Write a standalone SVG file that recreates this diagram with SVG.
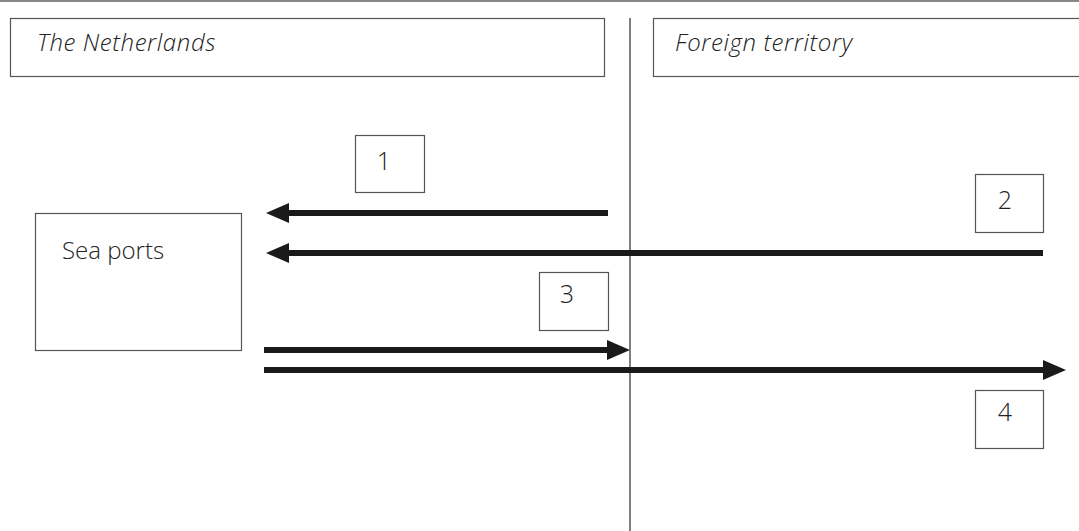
<svg xmlns="http://www.w3.org/2000/svg" width="1079" height="531" viewBox="0 0 1079 531">
<style>
.box{fill:#fff;stroke:#555;stroke-width:1.2}
.lbl{font-family:"Open Sans","Noto Sans",sans-serif;font-size:24px;fill:#222;font-weight:300}
.it{font-style:italic;letter-spacing:0.6px}
.num{text-anchor:middle;font-size:25px}
.arr{stroke:#1a1a1a;stroke-width:6;fill:none}
</style>
<defs>
<marker id="ah" markerUnits="userSpaceOnUse" markerWidth="24" markerHeight="20" refX="1" refY="10" orient="auto">
<path d="M0,0 L23,10 L0,20 Z" fill="#1a1a1a"/>
</marker>
</defs>
<rect width="1079" height="531" fill="#fff"/>
<line x1="0" y1="1" x2="1079" y2="1" stroke="#888" stroke-width="2"/>
<line x1="630" y1="18" x2="630" y2="531" stroke="#555" stroke-width="1.5"/>
<g id="netherlands">
<rect class="box" x="10.5" y="18.5" width="594" height="58"/>
<text class="lbl it" x="37" y="51">The Netherlands</text>
</g>
<g id="foreign">
<rect class="box" x="653.5" y="18.5" width="440" height="58"/>
<text class="lbl it" x="675" y="51">Foreign territory</text>
</g>
<g id="seaports">
<rect class="box" x="35.5" y="213.5" width="206" height="137"/>
<text class="lbl" x="62" y="259">Sea ports</text>
</g>
<g id="label1">
<rect class="box" x="355.5" y="135.5" width="69" height="57"/>
<text class="lbl num" x="384" y="170">1</text>
</g>
<g id="label2">
<rect class="box" x="975.5" y="174.5" width="68" height="58"/>
<text class="lbl num" x="1005" y="209">2</text>
</g>
<g id="label3">
<rect class="box" x="539.5" y="272.5" width="69" height="58"/>
<text class="lbl num" x="567" y="303">3</text>
</g>
<g id="label4">
<rect class="box" x="975.5" y="390.5" width="68" height="58"/>
<text class="lbl num" x="1005" y="421">4</text>
</g>
<g id="connectors">
<line class="arr" x1="608" y1="213" x2="288" y2="213" marker-end="url(#ah)"/>
<line class="arr" x1="1043" y1="253" x2="288" y2="253" marker-end="url(#ah)"/>
<line class="arr" x1="264" y1="350" x2="608" y2="350" marker-end="url(#ah)"/>
<line class="arr" x1="264" y1="370" x2="1044" y2="370" marker-end="url(#ah)"/>
</g>
</svg>
